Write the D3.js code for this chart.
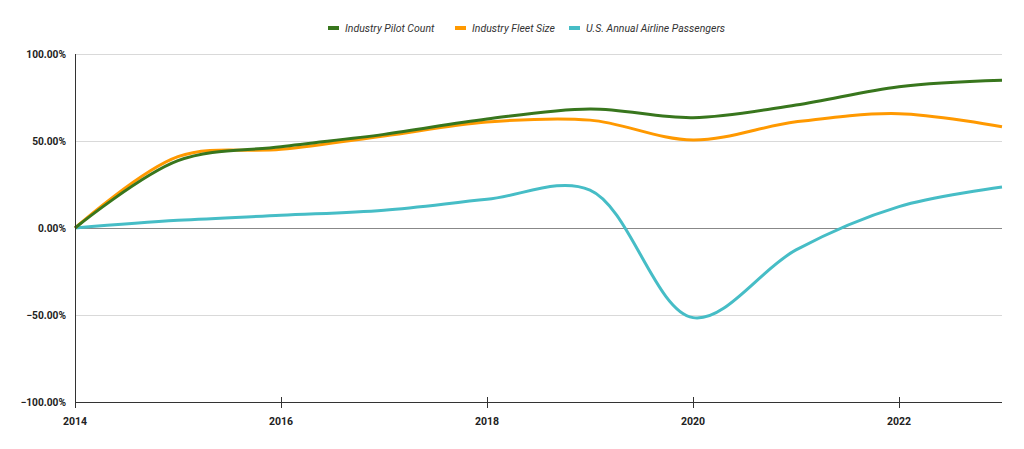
<!DOCTYPE html>
<html><head><meta charset="utf-8">
<script src="https://cdn.jsdelivr.net/npm/d3@7"></script>
<style>body{margin:0;background:#fff}svg{display:block;font-family:Roboto,sans-serif}</style>
</head><body><svg id="c" width="1024" height="449"></svg>
<script>
const years = [2014,2015,2016,2017,2018,2019,2020,2021,2022,2023];
const pilotCount = [0,38.7,46.7,53.8,62.6,68.4,63.4,70.7,81.2,84.9];
const fleetSize = [0,41,45.2,52.9,60.9,62,50.6,61,65.7,58.2];
const passengers = [0,4.4,7.3,10.2,16.5,21.8,-51.5,-12.6,12.3,23.5];
const seriesNames = ["Industry Pilot Count","Industry Fleet Size","U.S. Annual Airline Passengers"];
const seriesColors = ["#38761d","#ff9900","#46bdc6"];
const yTicks = [-100,-50,0,50,100];
const xTicks = [2014,2016,2018,2020,2022];

const svg = d3.select("#c");
const x = d3.scaleLinear().domain([2014,2023]).range([75,1002]);
const y = d3.scaleLinear().domain([-100,100]).range([402,54]);

// grid
svg.append("g").selectAll("line").data(yTicks.filter(d=>d!==0 && d!==-100)).join("line")
  .attr("x1",75).attr("x2",1002).attr("y1",d=>y(d)).attr("y2",d=>y(d))
  .attr("stroke","#d9d9d9").attr("stroke-width",1).attr("shape-rendering","crispEdges");
svg.append("line").attr("x1",75).attr("x2",1002).attr("y1",y(0)).attr("y2",y(0))
  .attr("stroke","#888").attr("stroke-width",1).attr("shape-rendering","crispEdges");

// y labels
svg.append("g").selectAll("text").data(yTicks).join("text")
  .attr("x",66).attr("y",d=>y(d)+4).attr("text-anchor","end")
  .attr("font-size",10.2).attr("font-weight","bold").attr("fill","#222")
  .text(d=>d3.format(".2f")(d)+"%");

// lines
const all = [pilotCount,fleetSize,passengers];
const line = d3.line().x((d,i)=>x(years[i])).y(d=>y(d)).curve(d3.curveCatmullRom.alpha(0.5));
svg.append("g").selectAll("path").data([2,1,0]).join("path")
  .attr("d",k=>line(all[k])).attr("fill","none")
  .attr("stroke",k=>seriesColors[k]).attr("stroke-width",3).attr("stroke-linejoin","round");

// axes lines
svg.append("line").attr("x1",75).attr("x2",75).attr("y1",54).attr("y2",402)
  .attr("stroke","#333").attr("stroke-width",1).attr("shape-rendering","crispEdges");
svg.append("line").attr("x1",75).attr("x2",1002).attr("y1",402).attr("y2",402)
  .attr("stroke","#333").attr("stroke-width",1).attr("shape-rendering","crispEdges");
svg.append("g").selectAll("line").data(xTicks).join("line")
  .attr("x1",d=>Math.round(x(d))).attr("x2",d=>Math.round(x(d))).attr("y1",397).attr("y2",408)
  .attr("stroke","#333").attr("stroke-width",1).attr("shape-rendering","crispEdges");
svg.append("g").selectAll("text").data(xTicks).join("text")
  .attr("x",d=>x(d)).attr("y",425).attr("text-anchor","middle")
  .attr("font-size",10.5).attr("font-weight","bold").attr("fill","#222").text(d=>d);

// legend
const legX = [328,455,569];
const lg = svg.append("g").selectAll("g").data(seriesNames).join("g")
  .attr("transform",(d,i)=>`translate(${legX[i]},28)`);
lg.append("line").attr("x1",0).attr("x2",11).attr("y1",0).attr("y2",0)
  .attr("stroke",(d,i)=>seriesColors[i]).attr("stroke-width",4);
lg.append("text").attr("x",17).attr("y",4).attr("font-size",10.5).attr("font-style","italic")
  .attr("fill","#333").text(d=>d);
</script></body></html>
